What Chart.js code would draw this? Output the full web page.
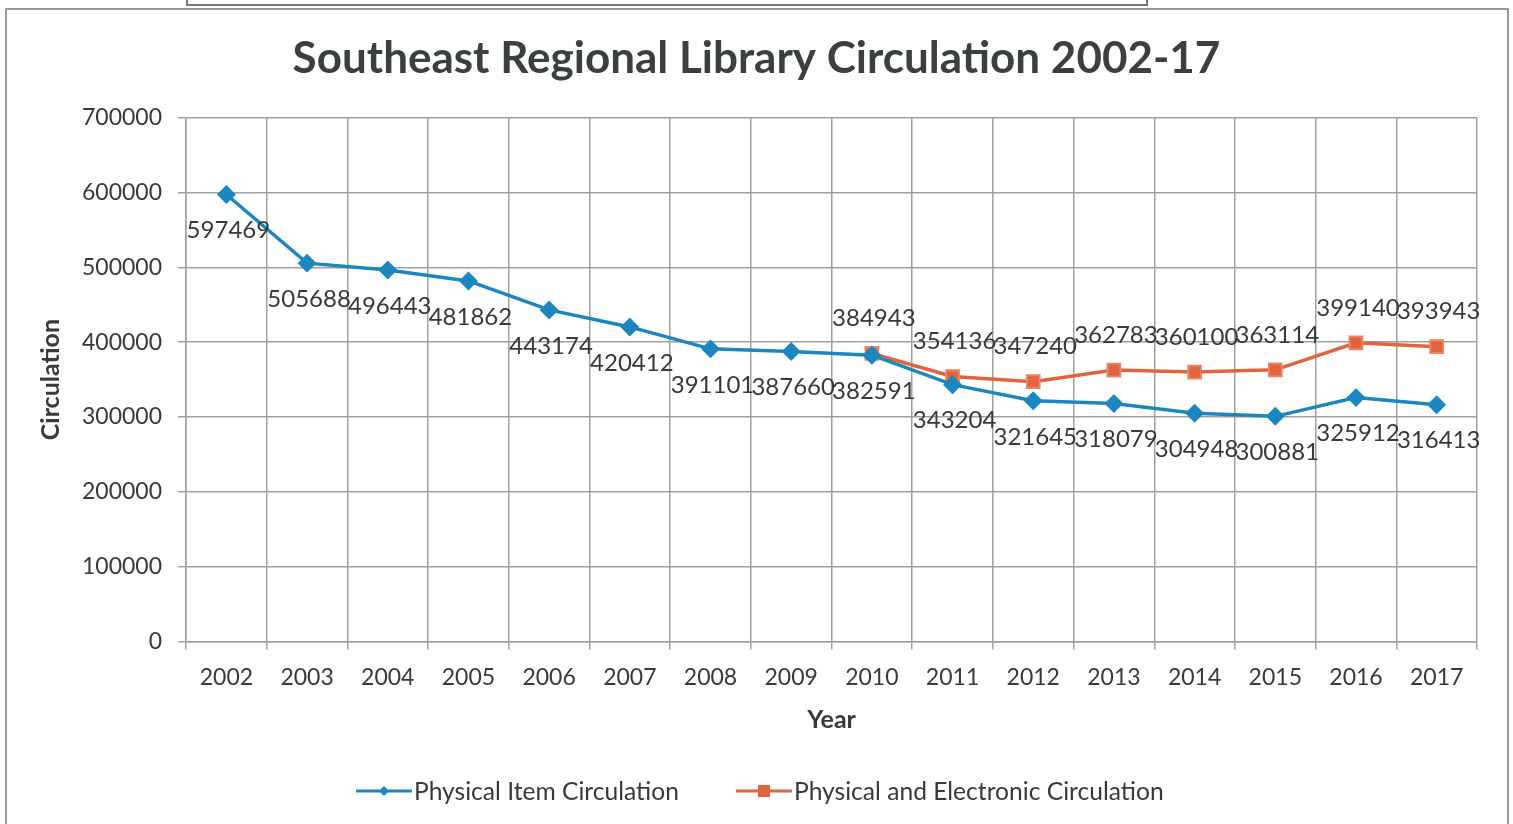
<!DOCTYPE html>
<html>
<head>
<meta charset="utf-8">
<script src="https://cdn.jsdelivr.net/npm/chart.js@4"></script>
<style>
  html, body { margin: 0; padding: 0; background: #fff; overflow: hidden; }
  #frame { position: absolute; left: 5px; top: 8px; width: 1500px; height: 830px; border: 2px solid #9a9a9a; }
  #scan { position: absolute; left: 186px; top: -2px; width: 958px; height: 6px; border: 2px solid #777; border-top: none; }
  #wrap { position: absolute; left: 0; top: 0; width: 1513px; height: 824px; }
</style>
</head>
<body>
<div id="frame"></div>
<div id="scan"></div>
<div id="wrap"><canvas id="myChart" width="1513" height="824"></canvas></div>
<script>
const years = ['2002', '2003', '2004', '2005', '2006', '2007', '2008', '2009', '2010', '2011', '2012', '2013', '2014', '2015', '2016', '2017'];
const physical = [597469, 505688, 496443, 481862, 443174, 420412, 391101, 387660, 382591, 343204, 321645, 318079, 304948, 300881, 325912, 316413];
const physicalElectronic = [null, null, null, null, null, null, null, null, 384943, 354136, 347240, 362783, 360100, 363114, 399140, 393943];
const yTicks = [0, 100000, 200000, 300000, 400000, 500000, 600000, 700000];

const blue = '#1b87c1';
const orange = '#e0643f';
const textColor = '#363a3a';
const gridColor = '#a0a0a0';
const fontFamily = 'Lato, "Open Sans", sans-serif';

// value labels: blue below, orange above
const valueLabels = {
    id: 'valueLabels',
    afterDatasetsDraw(chart) {
        const c = chart.ctx;
        c.save();
        c.font = '24px ' + fontFamily;
        c.fillStyle = textColor;
        c.textAlign = 'center';
        c.textBaseline = 'middle';
        chart.data.datasets.forEach((ds, i) => {
            const meta = chart.getDatasetMeta(i);
            meta.data.forEach((pt, j) => {
                if (ds.data[j] == null) return;
                const dy = i === 0 ? 36 : -35;
                c.fillText(String(ds.data[j]), pt.x + 2, pt.y + dy);
            });
        });
        c.restore();
    }
};

// legend drawn as line + marker like the original
const bottomLegend = {
    id: 'bottomLegend',
    afterDraw(chart) {
        const c = chart.ctx;
        const y = 791;
        const items = [
            { x: 356, color: blue, shape: 'diamond', text: 'Physical Item Circulation' },
            { x: 736, color: orange, shape: 'square', text: 'Physical and Electronic Circulation' }
        ];
        c.save();
        c.font = '24.6px ' + fontFamily;
        c.textBaseline = 'middle';
        items.forEach(it => {
            c.strokeStyle = it.color;
            c.lineWidth = 3;
            c.beginPath();
            c.moveTo(it.x, y);
            c.lineTo(it.x + 56, y);
            c.stroke();
            c.fillStyle = it.color;
            const cx = it.x + 28;
            if (it.shape === 'diamond') {
                c.beginPath();
                c.moveTo(cx, y - 5);
                c.lineTo(cx + 5, y);
                c.lineTo(cx, y + 5);
                c.lineTo(cx - 5, y);
                c.closePath();
                c.fill();
            } else {
                c.fillRect(cx - 6, y - 6, 12, 12);
            }
            c.fillStyle = textColor;
            c.textAlign = 'left';
            c.fillText(it.text, it.x + 58, y + 1);
        });
        c.restore();
    }
};

new Chart(document.getElementById('myChart'), {
    type: 'line',
    data: {
        labels: years,
        datasets: [{
            label: 'Physical Item Circulation',
            data: physical,
            borderColor: blue,
            backgroundColor: blue,
            borderWidth: 3.5,
            pointStyle: 'rectRot',
            pointRadius: 7,
            pointHoverRadius: 7,
            tension: 0
        },
        {
            label: 'Physical and Electronic Circulation',
            data: physicalElectronic,
            borderColor: orange,
            backgroundColor: orange,
            pointBorderColor: '#ee8462',
            pointBorderWidth: 2,
            borderWidth: 3.5,
            pointStyle: 'rect',
            pointRadius: 9,
            pointHoverRadius: 9,
            tension: 0,
            spanGaps: false
        }]
    },
    options: {
        responsive: false,
        animation: false,
        layout: { padding: { left: 36, right: 36, top: 32, bottom: 89 } },
        plugins: {
            legend: { display: false },
            tooltip: { enabled: false },
            title: {
                display: true,
                text: 'Southeast Regional Library Circulation 2002-17',
                color: '#3a3f3f',
                font: { family: fontFamily, size: 44, weight: 'bold' },
                padding: { top: 0, bottom: 33 }
            }
        },
        scales: {
            x: {
                offset: true,
                grid: { color: gridColor, lineWidth: 1.5, offset: true, tickLength: 8 },
                border: { color: gridColor, width: 1.5 },
                ticks: { color: textColor, font: { family: fontFamily, size: 23 }, padding: 14, maxRotation: 0 },
                title: {
                    display: true,
                    text: 'Year',
                    color: textColor,
                    font: { family: fontFamily, size: 25, weight: 'bold' },
                    padding: { top: 0, bottom: 0 }
                }
            },
            y: {
                min: 0,
                max: 700000,
                afterBuildTicks(axis) { axis.ticks = yTicks.map(v => ({ value: v })); },
                grid: { color: gridColor, lineWidth: 1.5, tickLength: 8 },
                border: { color: gridColor, width: 1.5 },
                ticks: { color: textColor, font: { family: fontFamily, size: 23 }, padding: 16, callback: v => String(v) },
                title: {
                    display: true,
                    text: 'Circulation',
                    color: textColor,
                    font: { family: fontFamily, size: 25, weight: 'bold' },
                    padding: { top: 0, bottom: 0 }
                }
            }
        }
    },
    plugins: [valueLabels, bottomLegend]
});
</script>
</body>
</html>
